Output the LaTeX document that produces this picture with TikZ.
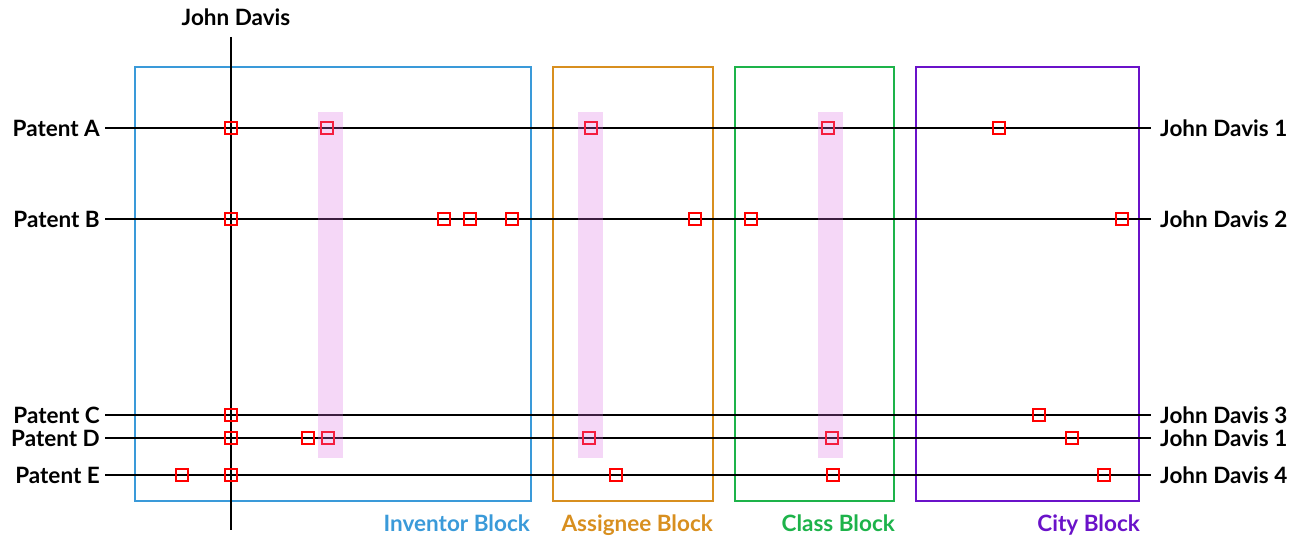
\documentclass[tikz,border=0pt]{standalone}
\usepackage{fontspec}
\setmainfont{Lato}
\begin{document}
\begin{tikzpicture}[x=1pt,y=-1pt,
  lab/.style={font=\bfseries\fontsize{22.5}{24}\selectfont, inner sep=0pt},
  track/.style={line width=2.3pt, black},
  mk/.style={draw=red, line width=1.3pt, minimum size=12pt, inner sep=0pt, fill=none},
  blk/.style={line width=1.8pt},
  band/.style={fill=bandc, fill opacity=0.28, draw=none}]
\useasboundingbox (0,0) rectangle (1304,537);
\definecolor{cinv}{HTML}{3A9AD9}
\definecolor{cass}{HTML}{D88F1F}
\definecolor{ccls}{HTML}{1DB34A}
\definecolor{ccity}{HTML}{6A12C9}
\definecolor{bandc}{HTML}{DA6FE4}
% blocks
\node[blk, draw=cinv, minimum width=396pt, minimum height=434pt, anchor=north west] (inv) at (134,66) {};
\node[blk, draw=cass, minimum width=160pt, minimum height=434pt, anchor=north west] (ass) at (552,66) {};
\node[blk, draw=ccls, minimum width=159pt, minimum height=434pt, anchor=north west] (cls) at (734,66) {};
\node[blk, draw=ccity, minimum width=223pt, minimum height=434pt, anchor=north west] (city) at (915,66) {};
\node[lab, text=cinv, anchor=base east] (linv) at (530,531) {Inventor Block};
\node[lab, text=cass, anchor=base east] (lass) at (713,531) {Assignee Block};
\node[lab, text=ccls, anchor=base east] (lcls) at (895,531) {Class Block};
\node[lab, text=ccity, anchor=base east] (lcity) at (1140,531) {City Block};
% vertical track
\node[lab, anchor=base] (jd) at (236,26) {John Davis};
\coordinate (vt) at (231,37);
\coordinate (vb) at (231,530);
\draw[track] (vt) -- (vb);
% horizontal tracks
\foreach \n/\y/\l/\r in {A/128/Patent A/John Davis 1, B/219/Patent B/John Davis 2, C/415/Patent C/John Davis 3, D/438/Patent D/John Davis 1, E/475/Patent E/John Davis 4}{
  \node[lab, anchor=east] (p\n) at (100,\y) {\l};
  \node[lab, anchor=west] (j\n) at (1160,\y) {\r};
  \coordinate (s\n) at (105,\y);
  \coordinate (e\n) at (1151,\y);
  \draw[track] (s\n) -- (e\n);
}
% markers
\foreach \x [count=\i] in {231,327,591,828,999}{\node[mk] (mA\i) at (\x,128) {};}
\foreach \x [count=\i] in {231,444,470,512,695,751,1122}{\node[mk] (mB\i) at (\x,219) {};}
\foreach \x [count=\i] in {231,1039}{\node[mk] (mC\i) at (\x,415) {};}
\foreach \x [count=\i] in {231,308,328,589,832,1072}{\node[mk] (mD\i) at (\x,438) {};}
\foreach \x [count=\i] in {182,231,616,833,1104}{\node[mk] (mE\i) at (\x,475) {};}
% bands
\fill[band] (318,112) rectangle (343,458);
\fill[band] (578,112) rectangle (603,458);
\fill[band] (818,112) rectangle (843,458);
\end{tikzpicture}
\end{document}
